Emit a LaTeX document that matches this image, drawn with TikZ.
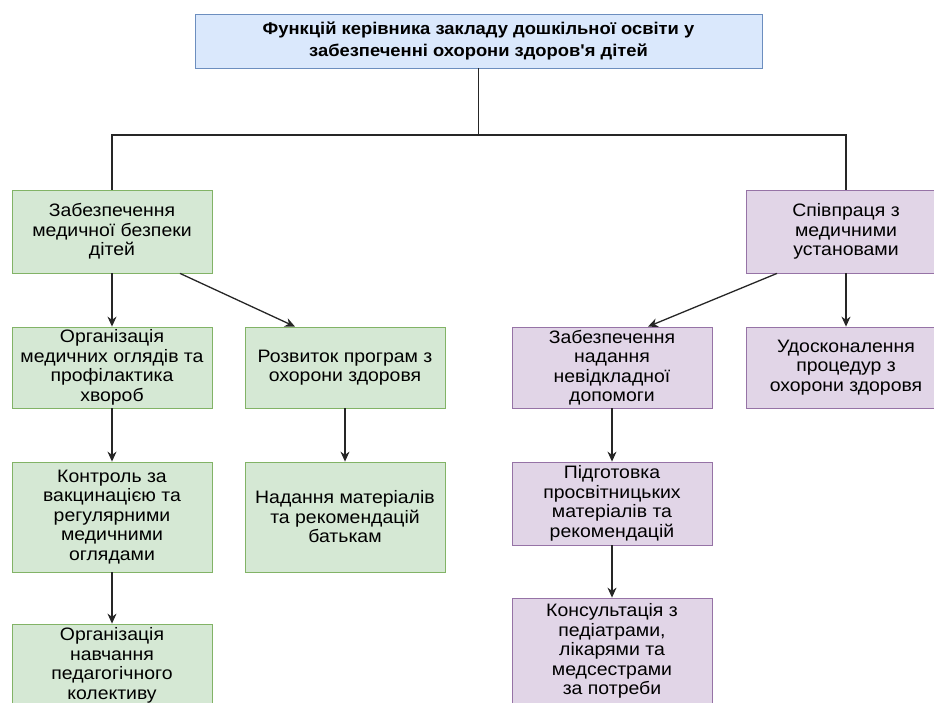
\documentclass[tikz,border=0pt]{standalone}
\usepackage{fontspec}
\setmainfont{Liberation Sans}[FakeStretch=1.08, Ligatures=TeXOff]
\usepackage{tikz}
\usetikzlibrary{arrows.meta, positioning}

\definecolor{headfill}{HTML}{DAE8FC}
\definecolor{headline}{HTML}{6C8EBF}
\definecolor{safefill}{HTML}{D5E8D4}
\definecolor{safeline}{HTML}{82B366}
\definecolor{coopfill}{HTML}{E1D5E7}
\definecolor{coopline}{HTML}{9673A6}
\definecolor{wire}{HTML}{262626}

\begin{document}
\begin{tikzpicture}[x=1pt, y=-1pt, >={Stealth[length=10pt, width=9pt]},
    font=\fontsize{18}{19.5}\selectfont,
    box/.style={draw, rectangle, line width=0.8pt, align=center, minimum width=200pt, inner sep=2pt},
    safebox/.style={box, fill=safefill, draw=safeline},
    coopbox/.style={box, fill=coopfill, draw=coopline},
    wireline/.style={draw=wire, line width=1.3pt}]
    \clip (0,0) rectangle (934,702);

    % Main function node
    \node[box, fill=headfill, draw=headline, minimum width=567pt, minimum height=54pt,
      font=\fontsize{17}{22}\selectfont\bfseries] (head)
    at (478.5,41) {Функцій керівника закладу дошкільної освіти у \\ забезпеченні охорони здоров'я дітей};

    % Medical safety branch (green)
    \node[safebox, minimum height=83pt] (safety) at (112,231.5) {Забезпечення \\ медичної безпеки \\ дітей};
    \node[safebox, minimum height=81pt] (exams) at (112,367.5) {Організація \\ медичних оглядів та \\ профілактика \\ хвороб};
    \node[safebox, minimum height=81pt] (programs) at (345,367.5) {Розвиток програм з \\ охорони здоровя};
    \node[safebox, minimum height=110pt] (vaccine) at (112,517) {Контроль за \\ вакцинацією та \\ регулярними \\ медичними \\ оглядами};
    \node[safebox, minimum height=110pt] (parents) at (345,517) {Надання матеріалів \\ та рекомендацій \\ батькам};
    \node[safebox, minimum height=83pt] (training) at (112,665.5) {Організація \\ навчання \\ педагогічного \\ колективу};

    % Cooperation branch (purple)
    \node[coopbox, minimum height=83pt] (coop) at (846,231.5) {Співпраця з \\ медичними \\ установами};
    \node[coopbox, minimum height=81pt] (urgent) at (612,367.5) {Забезпечення \\ надання \\ невідкладної \\ допомоги};
    \node[coopbox, minimum height=81pt] (improve) at (846,367.5) {Удосконалення \\ процедур з \\ охорони здоровя};
    \node[coopbox, minimum height=83pt] (materials) at (612,503.5) {Підготовка \\ просвітницьких \\ матеріалів та \\ рекомендацій};
    \node[coopbox, minimum height=106pt] (consult) at (612,651) {Консультація з \\ педіатрами, \\ лікарями та \\ медсестрами \\ за потреби};

    % Tree lines from the main node
    \coordinate (split) at (478.5,135);
    \draw[wireline] (head.south) -- (split) -| (safety.north);
    \draw[wireline] (split) -| (coop.north);

    % Arrows in the green branch
    \draw[wireline, ->] (safety.south) -- (exams.north);
    \draw[wireline, ->] ([xshift=68pt]safety.south) -- ([xshift=-50pt]programs.north);
    \draw[wireline, ->] (exams.south) -- (vaccine.north);
    \draw[wireline, ->] (vaccine.south) -- (training.north);
    \draw[wireline, ->] (programs.south) -- (parents.north);

    % Arrows in the purple branch
    \draw[wireline, ->] ([xshift=-69pt]coop.south) -- ([xshift=36pt]urgent.north);
    \draw[wireline, ->] (coop.south) -- (improve.north);
    \draw[wireline, ->] (urgent.south) -- (materials.north);
    \draw[wireline, ->] (materials.south) -- (consult.north);
\end{tikzpicture}
\end{document}
